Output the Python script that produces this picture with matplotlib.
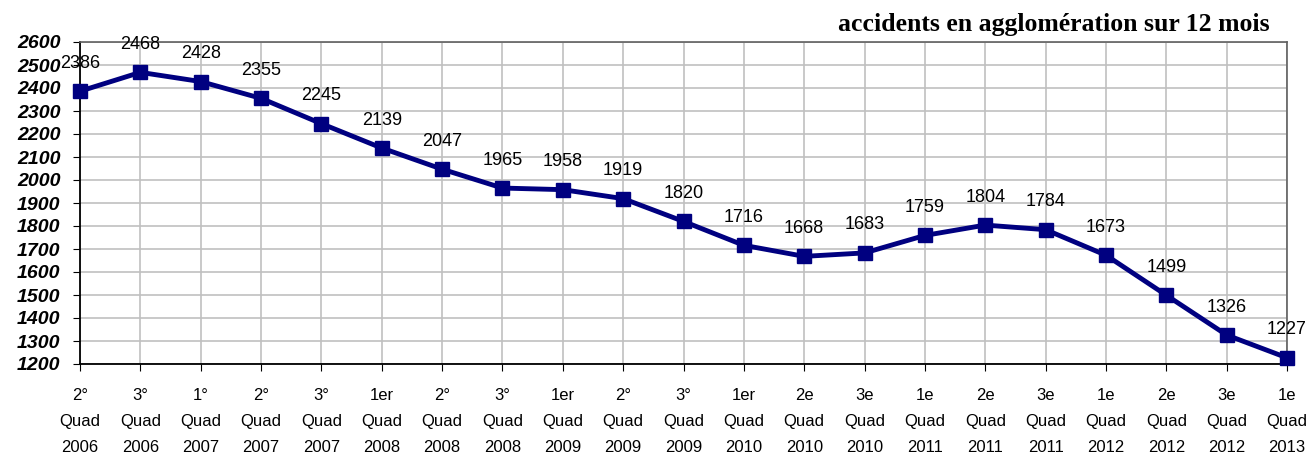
import matplotlib
matplotlib.use("Agg")
import matplotlib.pyplot as plt

quarters = ["2°", "3°", "1°", "2°", "3°", "1er", "2°", "3°", "1er", "2°", "3°",
            "1er", "2e", "3e", "1e", "2e", "3e", "1e", "2e", "3e", "1e"]
years = ["2006", "2006", "2007", "2007", "2007", "2008", "2008", "2008", "2009", "2009", "2009",
         "2010", "2010", "2010", "2011", "2011", "2011", "2012", "2012", "2012", "2013"]
values = [2386, 2468, 2428, 2355, 2245, 2139, 2047, 1965, 1958, 1919, 1820,
          1716, 1668, 1683, 1759, 1804, 1784, 1673, 1499, 1326, 1227]
yticks = list(range(1200, 2601, 100))
title = "accidents en agglomération sur 12 mois"

fig = plt.figure(figsize=(13.1, 4.55), dpi=100)
ax = fig.add_axes([80/1310, 1 - 364/455, (1287-80)/1310, (364-42)/455])

x = list(range(len(values)))
ax.plot(x, values, color="#000080", linewidth=3.5, marker="s", markersize=9.5,
        clip_on=False, zorder=3)
for xi, v in zip(x, values):
    ax.annotate(str(v), (xi, v), xytext=(0, 14), textcoords="offset points",
                ha="center", va="bottom", fontsize=13, family="Liberation Sans",
                color="black", zorder=4)

ax.set_xlim(0, len(values) - 1)
ax.set_ylim(1200, 2600)
ax.set_yticks(yticks)
ax.set_yticklabels([str(t) for t in yticks], fontsize=14, fontweight="bold",
                   fontstyle="italic", family="Liberation Sans")
ax.set_xticks(x)
ax.set_xticklabels([f"{q}\nQuad\n{y}" for q, y in zip(quarters, years)],
                   fontsize=12, family="Liberation Sans", linespacing=1.95)
ax.tick_params(axis="x", length=5, pad=12, color="black")
ax.tick_params(axis="y", length=5, pad=9, color="black")
ax.grid(True, color="#c0c0c0", linewidth=1.2)
ax.set_axisbelow(True)
for s in ["left", "bottom"]:
    ax.spines[s].set_color("black")
    ax.spines[s].set_linewidth(1.3)
for s in ["top", "right"]:
    ax.spines[s].set_color("#606060")
    ax.spines[s].set_linewidth(1.2)

fig.text(1270/1310, 1 - 24/455, title, ha="right", va="center",
         fontsize=18.5, fontweight="bold", family="Liberation Serif")

fig.savefig("out.png", dpi=100)
